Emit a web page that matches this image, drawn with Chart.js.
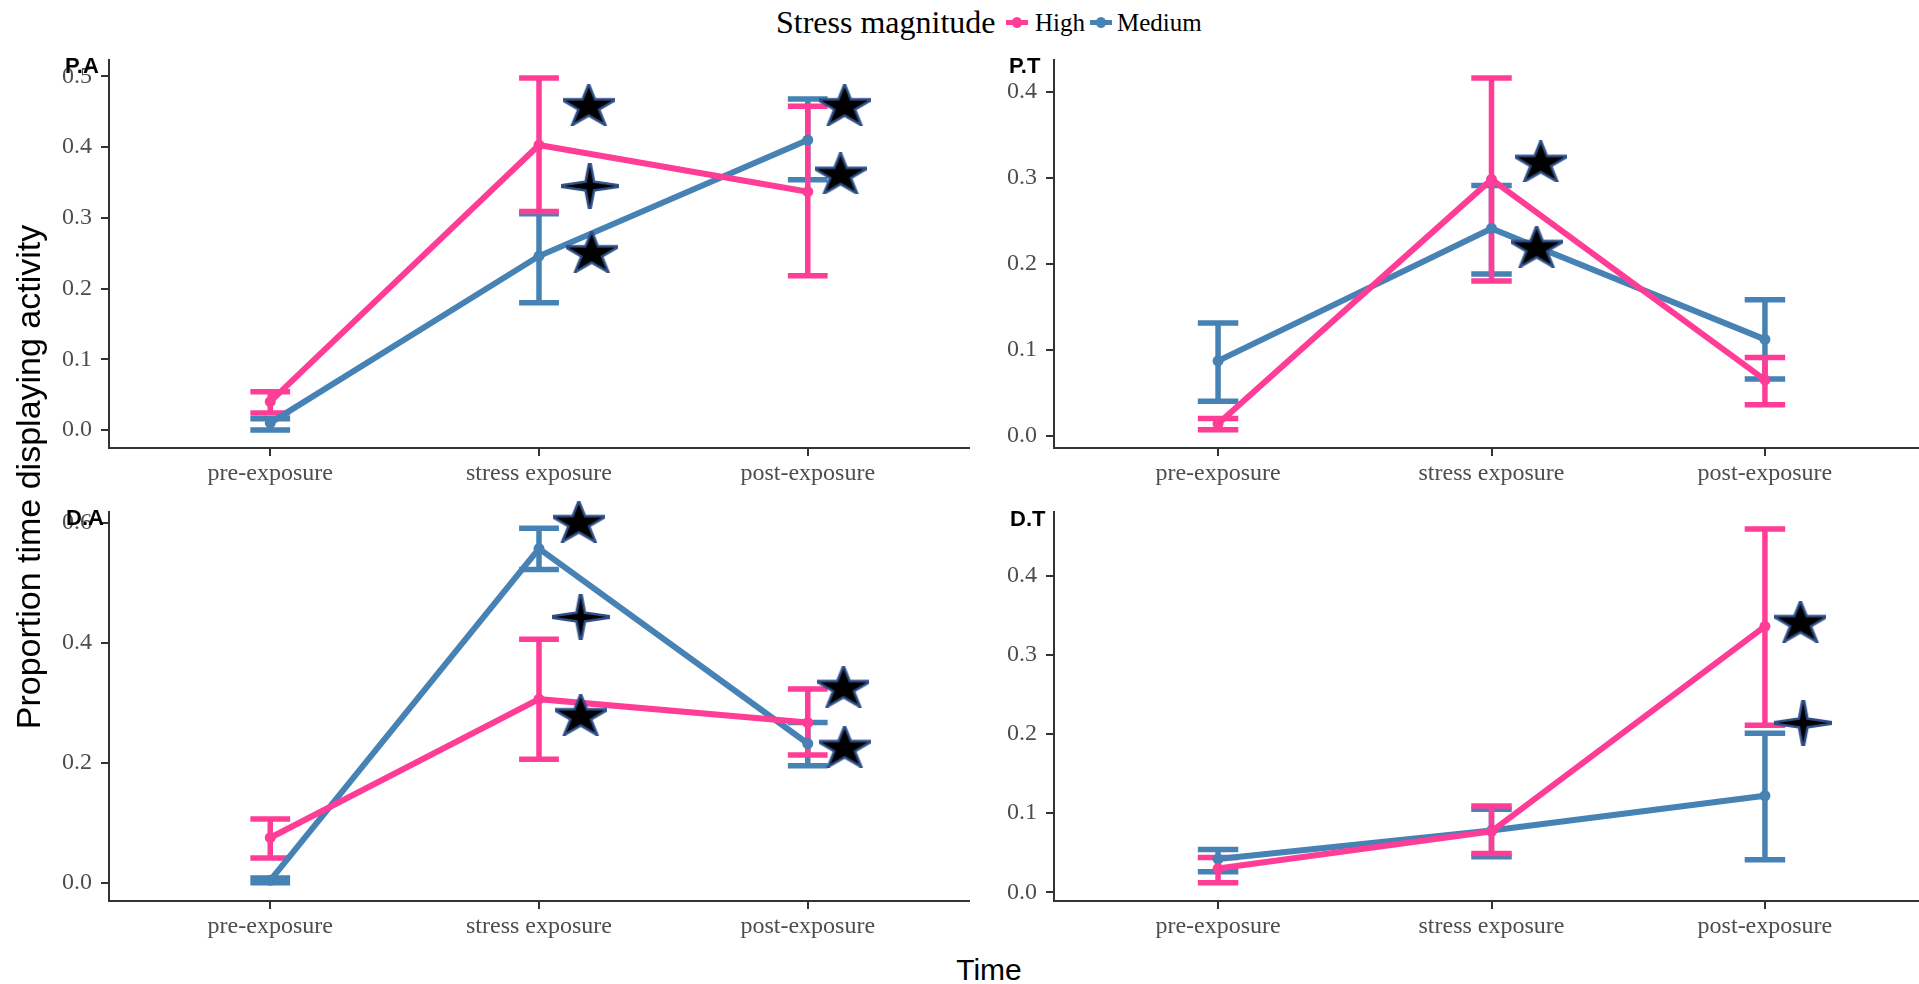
<!DOCTYPE html>
<html>
<head>
<meta charset="utf-8">
<script src="https://cdn.jsdelivr.net/npm/chart.js@4.4.1/dist/chart.umd.min.js"></script>
<style>
  html, body { margin: 0; padding: 0; background: #fff; overflow: hidden; }
  body { width: 1919px; height: 984px; position: relative; }
  canvas { position: absolute; }
  .lbl { position: absolute; white-space: nowrap; line-height: 1; color: #000; }
  .serif { font-family: 'Liberation Serif', 'Times New Roman', serif; }
  .sans { font-family: 'Liberation Sans', Arial, sans-serif; }
  .tag { font: bold 22px 'Liberation Sans', Arial, sans-serif; }
  .key { position: absolute; width: 22px; height: 10px; }
  .key::before { content: ''; position: absolute; left: 0; right: 0; top: 3px; height: 5px; background: var(--c); }
  .key::after { content: ''; position: absolute; left: 6px; top: 0; width: 10px; height: 11px; border-radius: 50%; background: var(--c); }
</style>
</head>
<body>

<div class="lbl serif" style="left:776px; top:6px; font-size:32px;">Stress magnitude</div>
<span class="key" style="left:1006px; top:17px; --c:#ff3d96;"></span>
<div class="lbl serif" style="left:1035px; top:10px; font-size:25px;">High</div>
<span class="key" style="left:1090px; top:17px; --c:#4682b4;"></span>
<div class="lbl serif" style="left:1117px; top:10px; font-size:25px;">Medium</div>

<canvas id="pa" width="990" height="470" style="left:0px; top:30px;"></canvas>
<canvas id="pt" width="990" height="470" style="left:960px; top:30px;"></canvas>
<canvas id="da" width="990" height="470" style="left:0px; top:482px;"></canvas>
<canvas id="dt" width="990" height="470" style="left:960px; top:482px;"></canvas>

<div class="lbl tag" style="left:65px; top:53px;">P.A</div>
<div class="lbl tag" style="left:1009px; top:53px;">P.T</div>
<div class="lbl tag" style="left:66px; top:505px;">D.A</div>
<div class="lbl tag" style="left:1010px; top:506px;">D.T</div>

<div class="lbl sans" style="left:-272px; top:457px; width:600px; height:40px; line-height:40px; text-align:center; font-size:34px; transform:rotate(-90deg);">Proportion time displaying activity</div>
<div class="lbl sans" style="left:889px; top:955px; width:200px; text-align:center; font-size:30px;">Time</div>

<script>
const categories = ['pre-exposure', 'stress exposure', 'post-exposure'];
const highColor = '#ff3d96';
const medColor = '#4682b4';

// P.A
const paHigh   = [0.040, 0.403, 0.337];
const paHighLo = [0.024, 0.309, 0.218];
const paHighHi = [0.054, 0.498, 0.458];
const paMed    = [0.010, 0.246, 0.410];
const paMedLo  = [0.000, 0.180, 0.354];
const paMedHi  = [0.016, 0.306, 0.468];
const paStarX  = [1.185, 1.189, 1.196, 2.137, 2.122];
const paStarY  = [0.460, 0.345, 0.252, 0.460, 0.363];
const paStarKind = [5, 4, 5, 5, 5];
const paYTicks = [0, 0.1, 0.2, 0.3, 0.4, 0.5];

// P.T
const ptHigh   = [0.014, 0.298, 0.065];
const ptHighLo = [0.007, 0.180, 0.036];
const ptHighHi = [0.020, 0.416, 0.091];
const ptMed    = [0.087, 0.241, 0.112];
const ptMedLo  = [0.040, 0.188, 0.066];
const ptMedHi  = [0.131, 0.291, 0.158];
const ptStarX  = [1.180, 1.165];
const ptStarY  = [0.319, 0.220];
const ptStarKind = [5, 5];
const ptYTicks = [0, 0.1, 0.2, 0.3, 0.4];

// D.A
const daHigh   = [0.075, 0.306, 0.267];
const daHighLo = [0.041, 0.206, 0.213];
const daHighHi = [0.106, 0.406, 0.323];
const daMed    = [0.004, 0.557, 0.232];
const daMedLo  = [0.000, 0.522, 0.195];
const daMedHi  = [0.008, 0.591, 0.267];
const daStarX  = [1.148, 1.155, 1.155, 2.133, 2.137];
const daStarY  = [0.602, 0.443, 0.280, 0.327, 0.227];
const daStarKind = [5, 4, 5, 5, 5];
const daYTicks = [0, 0.2, 0.4, 0.6];

// D.T
const dtHigh   = [0.030, 0.077, 0.336];
const dtHighLo = [0.012, 0.049, 0.211];
const dtHighHi = [0.044, 0.109, 0.459];
const dtMed    = [0.042, 0.078, 0.122];
const dtMedLo  = [0.026, 0.045, 0.041];
const dtMedHi  = [0.054, 0.105, 0.201];
const dtStarX  = [2.130, 2.140];
const dtStarY  = [0.342, 0.214];
const dtStarKind = [5, 4];
const dtYTicks = [0, 0.1, 0.2, 0.3, 0.4];

// star glyphs used as point styles (a bit wider than tall, like the original)
function makeStar(kind) {
  const c = document.createElement('canvas');
  const w = kind === 5 ? 52 : 58, h = kind === 5 ? 42 : 46;
  c.width = w; c.height = h;
  const g = c.getContext('2d');
  g.translate(w / 2, h / 2);
  g.beginPath();
  if (kind === 5) {
    const R = 19.4, r = R * 0.382, sx = 1.25;
    const dy = 0.095 * R;
    for (let i = 0; i < 10; i++) {
      const a = -Math.PI / 2 + i * Math.PI / 5;
      const rad = i % 2 ? r : R;
      g.lineTo(Math.cos(a) * rad * sx, Math.sin(a) * rad + dy);
    }
  } else {
    const ax = 25.5, ay = 20, r = 3.2;
    const pts = [[0, -ay], [r, -r], [ax, 0], [r, r], [0, ay], [-r, r], [-ax, 0], [-r, -r]];
    pts.forEach(p => g.lineTo(p[0], p[1]));
  }
  g.closePath();
  g.lineJoin = 'miter';
  g.strokeStyle = '#2f4f88';
  g.lineWidth = 5;
  g.stroke();
  g.fillStyle = '#000';
  g.fill();
  return c;
}
const starImages = { 5: makeStar(5), 4: makeStar(4) };

const errorBars = {
  id: 'errorBars',
  beforeDatasetsDraw(chart) {
    const { ctx, scales: { x, y } } = chart;
    const sets = chart.data.datasets.filter(d => d.lo).reverse();
    ctx.save();
    ctx.lineCap = 'butt';
    sets.forEach(d => {
      ctx.strokeStyle = d.borderColor;
      ctx.lineWidth = 5.5;
      d.lo.forEach((lo, i) => {
        const px = x.getPixelForValue(i);
        const l = x.getPixelForValue(i - 0.074), r = x.getPixelForValue(i + 0.074);
        const y1 = y.getPixelForValue(lo), y2 = y.getPixelForValue(d.hi[i]);
        ctx.beginPath();
        ctx.moveTo(px, y1); ctx.lineTo(px, y2);
        ctx.moveTo(l, y1); ctx.lineTo(r, y1);
        ctx.moveTo(l, y2); ctx.lineTo(r, y2);
        ctx.stroke();
      });
    });
    ctx.restore();
  }
};

const tickFont = { family: "'Liberation Serif', 'Times New Roman', serif", size: 24 };
const axisGrid = { drawOnChartArea: false, drawTicks: true, tickLength: 8, color: '#333', lineWidth: 2 };
const axisBorder = { display: true, color: '#333', width: 2 };

function makePanel(id, p) {
  const pts = arr => arr.map((y, i) => ({ x: i, y }));
  return new Chart(document.getElementById(id), {
    type: 'line',
    data: {
      datasets: [
        {
          label: 'stars',
          data: p.starX.map((x, i) => ({ x, y: p.starY[i] })),
          showLine: false, clip: false,
          pointStyle: p.starKind.map(k => starImages[k]),
          pointRadius: 20
        },
        {
          label: 'High', data: pts(p.high), lo: p.highLo, hi: p.highHi,
          borderColor: highColor, backgroundColor: highColor,
          borderWidth: 6, pointRadius: 5.5, pointBorderWidth: 0, tension: 0
        },
        {
          label: 'Medium', data: pts(p.med), lo: p.medLo, hi: p.medHi,
          borderColor: medColor, backgroundColor: medColor,
          borderWidth: 6, pointRadius: 5.5, pointBorderWidth: 0, tension: 0
        }
      ]
    },
    options: {
      responsive: false,
      animation: false,
      events: [],
      layout: { padding: p.pad },
      plugins: { legend: { display: false }, tooltip: { enabled: false } },
      scales: {
        x: {
          type: 'linear', min: -0.6, max: 2.6,
          afterBuildTicks: s => { s.ticks = categories.map((c, i) => ({ value: i })); },
          afterFit: s => { s.height = p.xh; },
          ticks: { callback: v => categories[v], autoSkip: false, maxRotation: 0, padding: 3, color: '#4d4d4d', font: tickFont },
          grid: axisGrid, border: axisBorder
        },
        y: {
          min: p.yMin, max: p.yMax,
          afterBuildTicks: s => { s.ticks = p.yTicks.map(v => ({ value: v })); },
          afterFit: s => { s.width = p.yw; },
          ticks: { callback: v => v.toFixed(1), padding: 9, color: '#4d4d4d', font: tickFont },
          grid: axisGrid, border: axisBorder
        }
      }
    },
    plugins: [errorBars]
  });
}

makePanel('pa', {
  high: paHigh, highLo: paHighLo, highHi: paHighHi, med: paMed, medLo: paMedLo, medHi: paMedHi,
  starX: paStarX, starY: paStarY, starKind: paStarKind, yTicks: paYTicks,
  yMin: -0.0255, yMax: 0.5233, yw: 109, xh: 52, pad: { left: 0, top: 30, right: 18, bottom: 0 }
});
makePanel('pt', {
  high: ptHigh, highLo: ptHighLo, highHi: ptHighHi, med: ptMed, medLo: ptMedLo, medHi: ptMedHi,
  starX: ptStarX, starY: ptStarY, starKind: ptStarKind, yTicks: ptYTicks,
  yMin: -0.0143, yMax: 0.4369, yw: 94, xh: 52, pad: { left: 0, top: 30, right: 13, bottom: 0 }
});
makePanel('da', {
  high: daHigh, highLo: daHighLo, highHi: daHighHi, med: daMed, medLo: daMedLo, medHi: daMedHi,
  starX: daStarX, starY: daStarY, starKind: daStarKind, yTicks: daYTicks,
  yMin: -0.0305, yMax: 0.618, yw: 109, xh: 51, pad: { left: 0, top: 30, right: 18, bottom: 0 }
});
makePanel('dt', {
  high: dtHigh, highLo: dtHighLo, highHi: dtHighHi, med: dtMed, medLo: dtMedLo, medHi: dtMedHi,
  starX: dtStarX, starY: dtStarY, starKind: dtStarKind, yTicks: dtYTicks,
  yMin: -0.011, yMax: 0.4805, yw: 94, xh: 51, pad: { left: 0, top: 30, right: 13, bottom: 0 }
});
</script>
</body>
</html>
